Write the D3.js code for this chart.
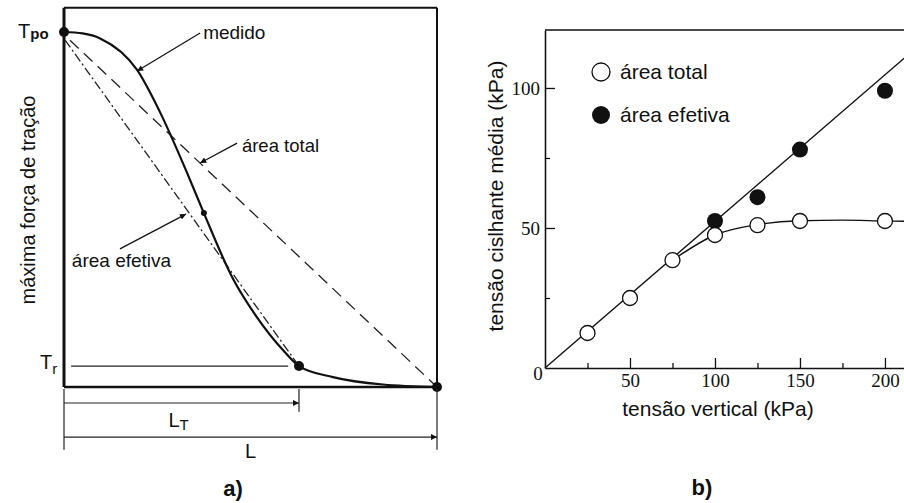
<!DOCTYPE html>
<html>
<head>
<meta charset="utf-8">
<script src="https://cdn.jsdelivr.net/npm/d3@7"></script>
<style>
  body { margin: 0; background: #fff; }
  text { font-family: "Liberation Sans", Arial, sans-serif; fill: #111; }
  .tick text { font-family: "Liberation Serif", "Times New Roman", serif; }
</style>
</head>
<body>
<div id="chart-area"></div>
<script>
// ---- panel a) : normalised length (0..L) vs normalised force (0..Tpo)
var medidoX = [0, 0.05, 0.097, 0.196, 0.257, 0.330, 0.375, 0.453, 0.517, 0.587, 0.630, 0.721, 0.855, 1];
var medidoY = [1, 0.996, 0.982, 0.893, 0.775, 0.603, 0.490, 0.305, 0.197, 0.104, 0.059, 0.028, 0.007, 0];
var totalLineX = [0.016, 1];
var totalLineY = [0.977, 0];
var efetivaLineX = [0.003, 0.63];
var efetivaLineY = [0.977, 0.059];
var keyPointsX = [0, 0.63, 1];
var keyPointsY = [1, 0.059, 0];
var LT = 0.63, TR = 0.059;

// ---- panel b) : tensao vertical (kPa) vs tensao cisalhante (kPa)
var tensaoVertical = [25, 50, 75, 100, 125, 150, 200];
var areaTotal = [12.5, 25, 38.5, 47.5, 51, 52.5, 52.5];
var efetivaX = [100, 125, 150, 200];
var areaEfetiva = [52.5, 61, 78, 99];
var fitX = [0, 212];
var fitY = [0, 111];
var curveX = [75, 100, 125, 150, 175, 200, 212];
var curveY = [38.5, 47.5, 51.2, 52.6, 52.8, 52.5, 52.4];
var xMajor = [50, 100, 150, 200];
var xMinor = [25, 75, 125, 175];
var yMajor = [50, 100];
var yMinor = [25, 75];

var W = 904, H = 503;

var svg = d3.select("#chart-area").append("svg")
    .attr("width", W)
    .attr("height", H);

var defs = svg.append("defs");
defs.append("marker")
    .attr("id", "arrow")
    .attr("viewBox", "0 0 10 10")
    .attr("refX", 10).attr("refY", 5)
    .attr("markerWidth", 9).attr("markerHeight", 6)
    .attr("markerUnits", "userSpaceOnUse")
    .attr("orient", "auto")
    .append("path")
    .attr("d", "M0,0 L10,5 L0,10 Z")
    .attr("fill", "#111");

// =================== panel a) ===================
var xL = d3.scaleLinear().domain([0, 1]).range([64, 437]);
var yL = d3.scaleLinear().domain([0, 1]).range([387, 32]);
var topL = 1.068;

var a = svg.append("g");

// frame
a.append("line").attr("x1", xL(0)).attr("x2", xL(0)).attr("y1", yL(topL)).attr("y2", yL(0))
    .attr("stroke", "#111").attr("stroke-width", 3);
a.append("line").attr("x1", xL(0)).attr("x2", xL(1)).attr("y1", yL(topL)).attr("y2", yL(topL))
    .attr("stroke", "#111").attr("stroke-width", 2);
a.append("line").attr("x1", xL(1)).attr("x2", xL(1)).attr("y1", yL(topL)).attr("y2", yL(0))
    .attr("stroke", "#111").attr("stroke-width", 2);
a.append("line").attr("x1", xL(0)).attr("x2", xL(1)).attr("y1", yL(0)).attr("y2", yL(0))
    .attr("stroke", "#111").attr("stroke-width", 2.5);

var lineL = d3.line().x(function(d) { return xL(d[0]); }).y(function(d) { return yL(d[1]); });

// área total (dashed)
a.append("path")
    .attr("d", lineL(d3.zip(totalLineX, totalLineY)))
    .attr("fill", "none").attr("stroke", "#222").attr("stroke-width", 1.3)
    .attr("stroke-dasharray", "12,7");

// área efetiva (dash-dot)
a.append("path")
    .attr("d", lineL(d3.zip(efetivaLineX, efetivaLineY)))
    .attr("fill", "none").attr("stroke", "#222").attr("stroke-width", 1.3)
    .attr("stroke-dasharray", "9,3,2,3");

// medido
var smoothL = d3.line().curve(d3.curveMonotoneX)
    .x(function(d) { return xL(d[0]); }).y(function(d) { return yL(d[1]); });
a.append("path")
    .attr("d", smoothL(d3.zip(medidoX, medidoY)))
    .attr("fill", "none").attr("stroke", "#111").attr("stroke-width", 2.2);

a.selectAll(".key").data(d3.zip(keyPointsX, keyPointsY)).enter().append("circle")
    .attr("cx", function(d) { return xL(d[0]); })
    .attr("cy", function(d) { return yL(d[1]); })
    .attr("r", 5).attr("fill", "#111");
a.append("circle").attr("cx", xL(medidoX[6])).attr("cy", yL(medidoY[6])).attr("r", 3).attr("fill", "#111");

// Tr line
a.append("line").attr("x1", xL(0.019)).attr("x2", xL(0.601)).attr("y1", yL(TR)).attr("y2", yL(TR))
    .attr("stroke", "#222").attr("stroke-width", 1.2);

// label arrows
function arrow(g, p, q) {
    g.append("line")
        .attr("x1", xL(p[0])).attr("y1", yL(p[1]))
        .attr("x2", xL(q[0])).attr("y2", yL(q[1]))
        .attr("stroke", "#111").attr("stroke-width", 1.2)
        .attr("marker-end", "url(#arrow)");
}
arrow(a, [0.365, 0.997], [0.196, 0.890]);
arrow(a, [0.464, 0.687], [0.365, 0.631]);
arrow(a, [0.150, 0.389], [0.327, 0.487]);

a.append("text").attr("x", xL(0.373)).attr("y", yL(0.980)).attr("font-size", 19).text("medido");
a.append("text").attr("x", xL(0.477)).attr("y", yL(0.662)).attr("font-size", 18.5).text("área total");
a.append("text").attr("x", xL(0.021)).attr("y", yL(0.338)).attr("font-size", 19).text("área efetiva");

// dimension lines
[[0, -0.177], [LT, -0.07], [1, -0.177]].forEach(function(d) {
    a.append("line").attr("x1", xL(d[0])).attr("x2", xL(d[0])).attr("y1", yL(0) + 2).attr("y2", yL(d[1]))
        .attr("stroke", "#222").attr("stroke-width", 1.2);
});
a.append("line").attr("x1", xL(0)).attr("x2", xL(LT)).attr("y1", yL(-0.045)).attr("y2", yL(-0.045))
    .attr("stroke", "#222").attr("stroke-width", 1.2).attr("marker-end", "url(#arrow)");
a.append("line").attr("x1", xL(0)).attr("x2", xL(1)).attr("y1", yL(-0.141)).attr("y2", yL(-0.141))
    .attr("stroke", "#222").attr("stroke-width", 1.2).attr("marker-end", "url(#arrow)");

var lt = a.append("text").attr("x", xL(0.28)).attr("y", yL(-0.113)).attr("font-size", 20);
lt.append("tspan").text("L");
lt.append("tspan").attr("font-size", 15).attr("dy", 3).text("T");
a.append("text").attr("x", xL(0.5)).attr("y", yL(-0.2)).attr("font-size", 20).attr("text-anchor", "middle").text("L");

var tpo = a.append("text").attr("x", 18).attr("y", yL(1) + 6).attr("font-size", 20);
tpo.append("tspan").text("T");
tpo.append("tspan").attr("font-size", 15).attr("font-weight", "bold").attr("dy", 1).text("po");
var tr = a.append("text").attr("x", 40).attr("y", yL(TR) + 3).attr("font-size", 20);
tr.append("tspan").text("T");
tr.append("tspan").attr("font-size", 15).attr("dy", 5).text("r");

a.append("text")
    .attr("transform", "translate(35,200) rotate(-90)")
    .attr("text-anchor", "middle").attr("font-size", 20)
    .text("máxima força de tração");

a.append("text").attr("x", 233).attr("y", 496).attr("text-anchor", "middle")
    .attr("font-size", 22).attr("font-weight", "bold").text("a)");

// =================== panel b) ===================
var x = d3.scaleLinear().domain([0, 211.2]).range([545, 904]);
var y = d3.scaleLinear().domain([0, 120.7]).range([368, 30]);

var b = svg.append("g");

var xAxis = b.append("g").attr("transform", "translate(0," + y(0) + ")")
    .call(d3.axisBottom(x).tickValues(xMajor).tickSize(-10).tickSizeOuter(0).tickPadding(6));
var yAxis = b.append("g").attr("transform", "translate(" + x(0) + ",0)")
    .call(d3.axisLeft(y).tickValues(yMajor).tickSize(-10).tickSizeOuter(0).tickPadding(5));
[xAxis, yAxis].forEach(function(g) {
    g.select(".domain").attr("stroke", "#111").attr("stroke-width", 1.6);
    g.selectAll(".tick line").attr("stroke", "#111").attr("stroke-width", 1.3);
    g.selectAll(".tick text").attr("font-size", 19).attr("fill", "#111");
});
b.append("g").attr("transform", "translate(0," + y(0) + ")")
    .call(d3.axisBottom(x).tickValues(xMinor).tickSize(-5).tickFormat(""))
    .call(function(g) { g.select(".domain").remove(); g.selectAll("line").attr("stroke-width", 1.2); });
b.append("g").attr("transform", "translate(" + x(0) + ",0)")
    .call(d3.axisLeft(y).tickValues(yMinor).tickSize(-5).tickFormat(""))
    .call(function(g) { g.select(".domain").remove(); g.selectAll("line").attr("stroke-width", 1.2); });

b.append("text").attr("x", 538).attr("y", 380).attr("text-anchor", "middle")
    .attr("font-size", 19).style("font-family", "Liberation Serif, serif").text("0");

// top frame
b.append("line").attr("x1", x(0)).attr("x2", x(211.2)).attr("y1", y(120.7)).attr("y2", y(120.7))
    .attr("stroke", "#111").attr("stroke-width", 1.6);

var line = d3.line().x(function(d) { return x(d[0]); }).y(function(d) { return y(d[1]); });
var smooth = d3.line().curve(d3.curveMonotoneX)
    .x(function(d) { return x(d[0]); }).y(function(d) { return y(d[1]); });

b.append("path").attr("d", line(d3.zip(fitX, fitY)))
    .attr("fill", "none").attr("stroke", "#111").attr("stroke-width", 1.4);
b.append("path").attr("d", smooth(d3.zip(curveX, curveY)))
    .attr("fill", "none").attr("stroke", "#111").attr("stroke-width", 1.4);

b.selectAll(".efetiva").data(d3.zip(efetivaX, areaEfetiva)).enter().append("circle")
    .attr("cx", function(d) { return x(d[0]); })
    .attr("cy", function(d) { return y(d[1]); })
    .attr("r", 8).attr("fill", "#111");
b.selectAll(".total").data(d3.zip(tensaoVertical, areaTotal)).enter().append("circle")
    .attr("cx", function(d) { return x(d[0]); })
    .attr("cy", function(d) { return y(d[1]); })
    .attr("r", 7.5).attr("fill", "#fff").attr("stroke", "#111").attr("stroke-width", 1.3);

// legend
b.append("circle").attr("cx", 601).attr("cy", 72).attr("r", 9)
    .attr("fill", "#fff").attr("stroke", "#111").attr("stroke-width", 1.3);
b.append("circle").attr("cx", 601).attr("cy", 115).attr("r", 9).attr("fill", "#111");
b.append("text").attr("x", 620).attr("y", 72).attr("dy", "0.35em").attr("font-size", 21).text("área total");
b.append("text").attr("x", 620).attr("y", 115).attr("dy", "0.35em").attr("font-size", 21).text("área efetiva");

b.append("text").attr("x", 718).attr("y", 416).attr("text-anchor", "middle")
    .attr("font-size", 21).text("tensão vertical (kPa)");
b.append("text")
    .attr("transform", "translate(503,196) rotate(-90)")
    .attr("text-anchor", "middle").attr("font-size", 21)
    .text("tensão cislhante média (kPa)");

b.append("text").attr("x", 702).attr("y", 495).attr("text-anchor", "middle")
    .attr("font-size", 22).attr("font-weight", "bold").text("b)");
</script>
</body>
</html>
